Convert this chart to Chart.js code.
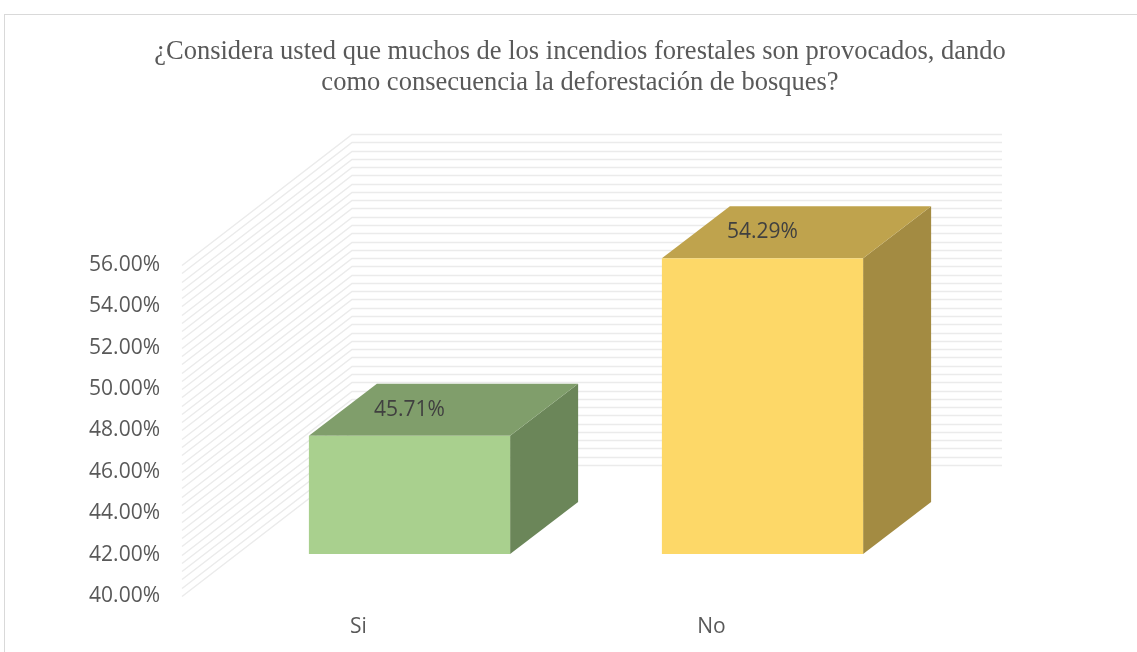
<!DOCTYPE html>
<html>
<head>
<meta charset="utf-8">
<script src="https://cdn.jsdelivr.net/npm/chart.js@4.4.0/dist/chart.umd.min.js"></script>
<style>
  html, body { margin: 0; padding: 0; background: #fff; }
  #wrap { position: relative; width: 1137px; height: 652px; overflow: hidden; }
  #frame { position: absolute; left: 4px; top: 14px; width: 1160px; height: 700px; border: 1px solid #d9d9d9; box-sizing: border-box; }
  #grafico { position: absolute; left: 0; top: 0; }
</style>
</head>
<body>
<div id="wrap">
  <div id="frame"></div>
  <canvas id="grafico" width="1137" height="652"></canvas>
</div>
<script>
// Datos
const categorias = ['Si', 'No'];
const porcentajes = [45.71, 54.29];
const ejeMin = 40;
const ejeMax = 56;
const ejePaso = 2;

// Estilo 3D (caras de las barras y paredes)
const colorFrente = ['#a9d08e', '#fdd868'];
const colorTapa = ['#809e6b', '#bfa34d'];
const colorLado = ['#6b8659', '#a38b42'];
const paso3D = 0.4;          // separación de las líneas de la pared
const pared = { dx: 170, dy: -131, recorte: 56 };
const barra = { dx: 51, dy: -42, fdx: 68, fdy: -52 };

const fuenteEje = { family: '"Open Sans", sans-serif', size: 21 };

const titulo = [
    '¿Considera usted que muchos de los incendios forestales son provocados, dando',
    'como consecuencia la deforestación de bosques?'
];

// Dibuja paredes y barras en perspectiva a partir de las escalas de Chart.js
const barras3D = {
    id: 'barras3D',
    afterLayout(chart) {
        // centrar el título en todo el lienzo
        chart.titleBlock.left = 0;
        chart.titleBlock.right = 1160;
    },
    beforeDatasetsDraw(chart) {
        const ctx = chart.ctx;
        const area = chart.chartArea;
        const y = chart.scales.y;

        ctx.save();
        ctx.strokeStyle = '#ebebeb';
        ctx.lineWidth = 1.5;
        for (let v = ejeMin; v <= ejeMax + 1e-6; v += paso3D) {
            const py = Math.round(y.getPixelForValue(v)) + 0.5;
            ctx.beginPath();
            ctx.moveTo(area.left, py);
            ctx.lineTo(area.left + pared.dx, py + pared.dy);
            ctx.lineTo(area.right + pared.dx - pared.recorte, py + pared.dy);
            ctx.stroke();
        }

        const suelo = y.getPixelForValue(ejeMin);
        const meta = chart.getDatasetMeta(0);
        meta.data.forEach(function(el, i) {
            const p = el.getProps(['x', 'y', 'width'], true);
            const x0 = p.x - p.width / 2 + barra.dx;
            const x1 = p.x + p.width / 2 + barra.dx;
            const yt = p.y + barra.dy;
            const yb = suelo + barra.dy;

            // cara lateral
            ctx.fillStyle = colorLado[i];
            ctx.beginPath();
            ctx.moveTo(x1, yt);
            ctx.lineTo(x1 + barra.fdx, yt + barra.fdy);
            ctx.lineTo(x1 + barra.fdx, yb + barra.fdy);
            ctx.lineTo(x1, yb);
            ctx.closePath();
            ctx.fill();

            // tapa
            ctx.fillStyle = colorTapa[i];
            ctx.beginPath();
            ctx.moveTo(x0, yt);
            ctx.lineTo(x0 + barra.fdx, yt + barra.fdy);
            ctx.lineTo(x1 + barra.fdx, yt + barra.fdy);
            ctx.lineTo(x1, yt);
            ctx.closePath();
            ctx.fill();

            // frente
            ctx.fillStyle = colorFrente[i];
            ctx.fillRect(x0, yt, x1 - x0, yb - yt);

            // etiqueta de datos
            ctx.fillStyle = '#404040';
            ctx.font = '21px "Open Sans", sans-serif';
            ctx.textAlign = 'center';
            ctx.textBaseline = 'middle';
            ctx.fillText(porcentajes[i].toFixed(2) + '%', p.x + barra.dx, yt + barra.fdy / 2);
        });
        ctx.restore();
        return false;
    }
};

new Chart(document.getElementById('grafico').getContext('2d'), {
    type: 'bar',
    data: {
        labels: categorias,
        datasets: [{
            data: porcentajes,
            backgroundColor: colorFrente,
            borderWidth: 0,
            categoryPercentage: 1,
            barPercentage: 0.57
        }]
    },
    options: {
        responsive: false,
        animation: false,
        layout: { padding: { left: 0, right: 249, top: 0, bottom: 0 } },
        plugins: {
            legend: { display: false },
            tooltip: { enabled: false },
            title: {
                display: true,
                text: titulo,
                color: '#595959',
                font: { family: '"Liberation Serif", "Times New Roman", serif', size: 26.5, weight: 'normal', lineHeight: 1.15 },
                padding: { top: 37, bottom: 167 }
            }
        },
        scales: {
            x: {
                grid: { display: false, drawTicks: false },
                border: { display: false },
                ticks: { color: '#595959', font: fuenteEje, padding: 18 },
                afterFit(scale) { scale.height = 56; }
            },
            y: {
                min: ejeMin,
                max: ejeMax,
                grid: { display: false, drawTicks: false },
                border: { display: false },
                ticks: {
                    stepSize: ejePaso,
                    color: '#595959',
                    font: fuenteEje,
                    padding: 22,
                    callback: function(v) { return v.toFixed(2) + '%'; }
                },
                afterFit(scale) { scale.width = 182; }
            }
        }
    },
    plugins: [barras3D]
});
</script>
</body>
</html>
